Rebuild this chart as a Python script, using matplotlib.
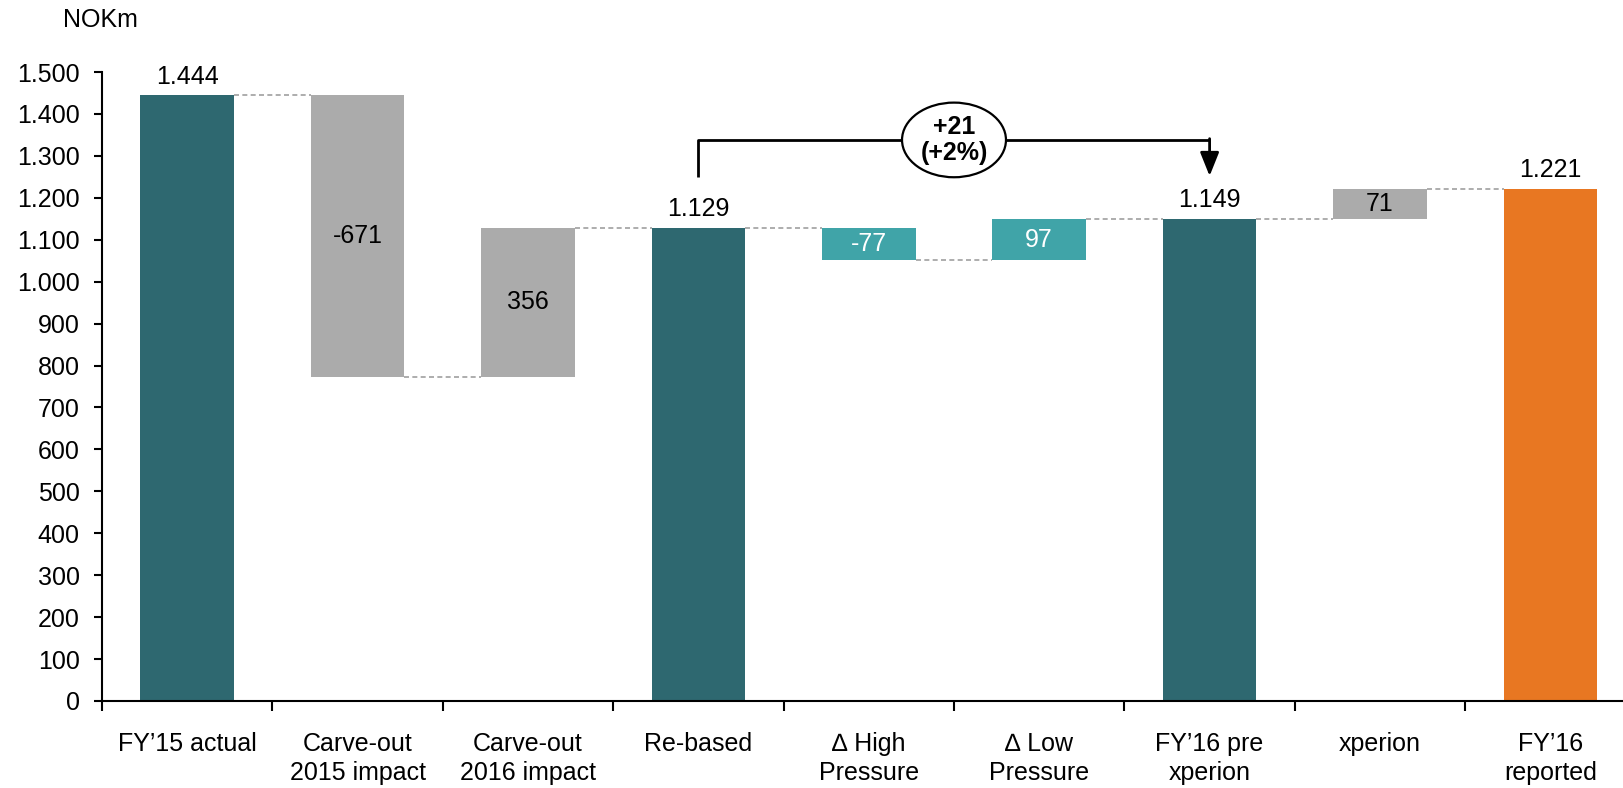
import matplotlib
matplotlib.use("Agg")
import matplotlib.pyplot as plt
from matplotlib.patches import Ellipse
from matplotlib.ticker import FuncFormatter, FixedLocator

plt.rcParams['font.family'] = ['Liberation Sans', 'DejaVu Sans']
plt.rcParams['font.size'] = 18

categories = ["FY’15 actual", "Carve-out\n2015 impact", "Carve-out\n2016 impact", "Re-based",
              "∆ High\nPressure", "∆ Low\nPressure", "FY’16 pre\nxperion", "xperion", "FY’16\nreported"]
values = [1444, -671, 356, 1129, -77, 97, 1149, 71, 1221]
is_total = [True, False, False, True, False, False, True, False, True]
bar_colors = ["#2E6870", "#ABABAB", "#ABABAB", "#2E6870", "#40A4A8", "#40A4A8", "#2E6870", "#ABABAB", "#E87722"]
label_colors = ["black", "black", "black", "black", "white", "white", "black", "black", "black"]
yticks = list(range(0, 1501, 100))
bridge_text = "+21\n(+2%)"

def fmt(v):
    s = f"{abs(v):,}".replace(",", ".")
    return ("-" if v < 0 else "") + s

fig = plt.figure(figsize=(16.23, 7.88), dpi=100)
ax = fig.add_axes([102/1623, 1 - 701/788, 1 - 102/1623, (701 - 72)/788])

width = 0.55
running = 0
levels = []
for i, v in enumerate(values):
    if is_total[i]:
        b, t = 0, v
        running = v
    else:
        if v >= 0:
            b, t = running, running + v
        else:
            b, t = running + v, running
        running = running + v
    levels.append(running)
    ax.bar(i, t - b, bottom=b, width=width, color=bar_colors[i], zorder=2)
    if is_total[i]:
        ax.annotate(fmt(v), (i, t), xytext=(0, 5), textcoords='offset points',
                    ha='center', va='bottom', color=label_colors[i], fontsize=18, clip_on=False)
    else:
        ax.text(i, (b + t) / 2, fmt(v), ha='center', va='center', color=label_colors[i], fontsize=18)

# connectors
for i in range(len(values) - 1):
    y = values[i + 1] if is_total[i + 1] else levels[i]
    if i == 0:
        y = values[0]
    ax.plot([i + width / 2, i + 1 - width / 2], [y, y], ls=(0, (3, 2)), color="#A0A0A0", lw=1.2, zorder=1)

# bridge annotation between Re-based and FY'16 pre xperion
x0, x1 = 3, 6
ybr = 1338
ax.plot([x0, x0, x1], [1250, ybr, ybr], color='black', lw=2, solid_capstyle='butt', clip_on=False, zorder=3)
ax.annotate("", xy=(x1, 1252), xytext=(x1, ybr + 3),
            arrowprops=dict(arrowstyle='-|>,head_length=0.8,head_width=0.32', color='black', lw=2,
                            shrinkA=0, shrinkB=0), zorder=3)
ell = Ellipse(((x0 + x1) / 2, ybr), 0.61, 178, facecolor='white', edgecolor='black', lw=1.6, zorder=4,
              clip_on=False)
ax.add_patch(ell)
ax.text((x0 + x1) / 2, ybr, bridge_text, ha='center', va='center', fontsize=18, fontweight='bold',
        linespacing=1.15, zorder=5)

ax.set_xlim(-0.5, -0.5 + 1521 / 170.4)
ax.set_ylim(0, 1500)
ax.set_yticks(yticks)
ax.yaxis.set_major_formatter(FuncFormatter(lambda v, p: fmt(int(v))))
ax.xaxis.set_major_locator(FixedLocator([k - 0.5 for k in range(len(categories))]))
ax.xaxis.set_major_formatter(FuncFormatter(lambda v, p: ""))
ax.xaxis.set_minor_locator(FixedLocator(list(range(len(categories)))))
ax.set_xticklabels(categories, minor=True)
ax.tick_params(axis='x', which='minor', length=0, pad=22)
ax.tick_params(axis='x', which='major', direction='out', length=7, width=1.5)
ax.tick_params(axis='y', direction='out', length=6, width=1.5, pad=10)
for lab in ax.get_xticklabels(minor=True):
    lab.set_linespacing(1.3)
for s in ['top', 'right']:
    ax.spines[s].set_visible(False)
for s in ['left', 'bottom']:
    ax.spines[s].set_linewidth(1.5)

fig.text(100 / 1623, 1 - 20 / 788, "NOKm", ha='center', va='center', fontsize=18)

fig.savefig("out.png", dpi=100)
